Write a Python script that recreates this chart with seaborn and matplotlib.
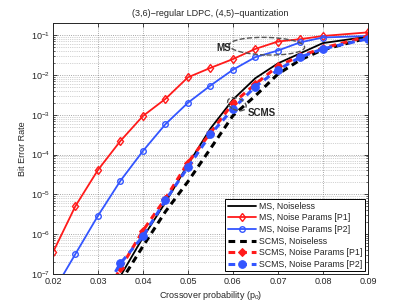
import numpy as np
import pandas as pd
import matplotlib
matplotlib.use("Agg")
import matplotlib.pyplot as plt
import seaborn as sns
from matplotlib.patches import Ellipse
from matplotlib.ticker import FixedLocator, NullFormatter

# Datos
p_ms = [0.02, 0.025, 0.03, 0.035, 0.04, 0.045, 0.05, 0.055, 0.06, 0.065, 0.07, 0.075, 0.08, 0.09]
ms_p1 = [3.5e-7, 5.1e-6, 4.1e-5, 2.2e-4, 9.3e-4, 2.5e-3, 8.7e-3, 1.5e-2, 2.5e-2, 4.5e-2, 6.9e-2, 7.9e-2, 9.5e-2, 1.17e-1]
ms_p2 = [3.5e-8, 3.2e-7, 2.9e-6, 2.2e-5, 1.23e-4, 5.8e-4, 2.0e-3, 5.4e-3, 1.35e-2, 2.8e-2, 4.1e-2, 6.6e-2, 8.7e-2, 9.5e-2]

p_noiseless = [0.035, 0.04, 0.045, 0.05, 0.055, 0.06, 0.065, 0.07, 0.075, 0.08, 0.09]
ms_noiseless = [8.9e-8, 8.3e-7, 6.3e-6, 5.6e-5, 4.5e-4, 2.4e-3, 8.3e-3, 1.95e-2, 3.5e-2, 6.3e-2, 9.1e-2]
scms_noiseless = [6.3e-8, 5.0e-7, 3.7e-6, 2.1e-5, 1.41e-4, 9.5e-4, 3.0e-3, 1.05e-2, 2.4e-2, 4.3e-2, 8.5e-2]

p_scms = [0.03, 0.035, 0.04, 0.045, 0.05, 0.055, 0.06, 0.065, 0.07, 0.075, 0.08, 0.09]
scms_p1 = [1.26e-8, 1.4e-7, 1.23e-6, 7.9e-6, 6.3e-5, 3.5e-4, 1.95e-3, 5.9e-3, 1.66e-2, 3.0e-2, 4.7e-2, 9.3e-2]
scms_p2 = [2.0e-8, 1.86e-7, 8.9e-7, 7.1e-6, 4.8e-5, 3.2e-4, 1.41e-3, 5.1e-3, 1.35e-2, 2.8e-2, 4.5e-2, 8.1e-2]

x_ticks = [0.02, 0.03, 0.04, 0.05, 0.06, 0.07, 0.08, 0.09]
y_exps = [-7, -6, -5, -4, -3, -2, -1]

sns.set_style("ticks")
plt.rcParams['font.family'] = ['Liberation Sans', 'DejaVu Sans']
plt.rcParams['mathtext.default'] = 'regular'
plt.rcParams['xtick.direction'] = 'in'
plt.rcParams['ytick.direction'] = 'in'

red = '#ff1a1a'
blue = '#3355ff'
dash = (0, (2.2, 1.6))

fig = plt.figure(figsize=(4.07, 3.08), dpi=100)
ax = fig.add_axes([0.130, 0.110, 0.774, 0.815])

sns.lineplot(x=p_noiseless, y=ms_noiseless, ax=ax, color='black', lw=1.3,
             label='MS, Noiseless')
sns.lineplot(x=p_ms, y=ms_p1, ax=ax, color=red, lw=1.3, marker='d', markersize=4.5,
             mfc='none', mec=red, mew=1.0, label='MS, Noise Params [P1]')
sns.lineplot(x=p_ms, y=ms_p2, ax=ax, color=blue, lw=1.3, marker='o', markersize=4,
             mfc='none', mec=blue, mew=1.0, label='MS, Noise Params [P2]')
sns.lineplot(x=p_noiseless, y=scms_noiseless, ax=ax, color='black', lw=2.2,
             ls=dash, label='SCMS, Noiseless')
sns.lineplot(x=p_scms, y=scms_p1, ax=ax, color=red, lw=2.2, ls=dash,
             marker='D', markersize=4.5, mfc=red, mec=red, label='SCMS, Noise Params [P1]')
sns.lineplot(x=p_scms, y=scms_p2, ax=ax, color=blue, lw=2.2, ls=dash,
             marker='o', markersize=5.5, mfc=blue, mec=blue, label='SCMS, Noise Params [P2]')

ax.set_yscale('log')
ax.set_xlim(0.02, 0.09)
ax.set_ylim(1e-7, 0.2)
ax.xaxis.set_major_locator(FixedLocator(x_ticks))
ax.set_xticklabels([f"{t:.2f}" for t in x_ticks])
ax.yaxis.set_major_locator(FixedLocator([10.0 ** e for e in y_exps]))
ax.set_yticklabels([f"$10^{{{e}}}$" for e in y_exps])
minor = [m * 10.0 ** e for e in y_exps for m in range(2, 10) if m * 10.0 ** e <= 0.2]
ax.yaxis.set_minor_locator(FixedLocator(minor))
ax.yaxis.set_minor_formatter(NullFormatter())
ax.tick_params(labelsize=6.5, top=True, right=True, length=3, width=0.6, pad=2)
ax.tick_params(which='minor', length=1.5, width=0.5, right=True)
ax.grid(True, which='major', ls=':', color='#8a8a8a', lw=0.6)
ax.grid(True, which='minor', axis='y', ls=':', color='#a8a8a8', lw=0.5)
for s in ax.spines.values():
    s.set_linewidth(0.7)

ax.set_title("(3,6)\u2212regular LDPC, (4,5)\u2212quantization", fontsize=6.5, pad=5)
ax.set_xlabel("Crossover probability (p$_0$)", fontsize=6.5, labelpad=2)
ax.set_ylabel("Bit Error Rate", fontsize=6.5, labelpad=3)

# Anotaciones MS y SCMS
ax.add_patch(Ellipse((0.679, 0.908), 0.24, 0.07, angle=-2, transform=ax.transAxes,
                     fill=False, ls='--', lw=1.0, ec='#555555', zorder=5))
ax.add_patch(Ellipse((0.584, 0.677), 0.065, 0.045, angle=-35, transform=ax.transAxes,
                     fill=False, ls='--', lw=1.0, ec='#555555', zorder=5))
ax.text(0.543, 0.90, "MS", transform=ax.transAxes, fontsize=7, fontweight='bold',
        ha='center', va='center', zorder=6)
ax.text(0.663, 0.641, "SCMS", transform=ax.transAxes, fontsize=7, fontweight='bold',
        ha='center', va='center', zorder=6)

leg = ax.legend(loc='lower right', fontsize=6.3, fancybox=False, framealpha=1,
                edgecolor='black', borderpad=0.3, labelspacing=0.3,
                handlelength=3.2, handletextpad=0.4, borderaxespad=0.3)
leg.get_frame().set_linewidth(0.7)

plt.savefig("out.png", dpi=100)
